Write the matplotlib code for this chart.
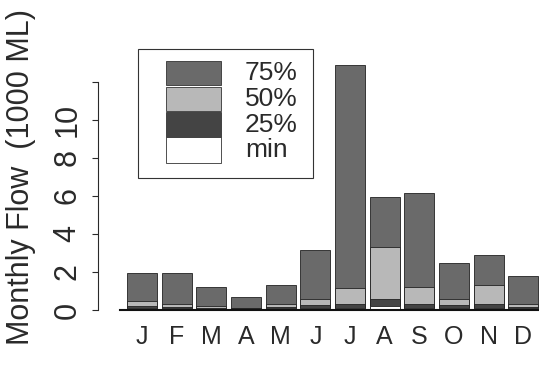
import matplotlib
matplotlib.use("Agg")
import matplotlib.pyplot as plt
from matplotlib.patches import Rectangle
import numpy as np

plt.rcParams['font.family'] = ['Liberation Sans', 'DejaVu Sans']

months = ['J', 'F', 'M', 'A', 'M', 'J', 'J', 'A', 'S', 'O', 'N', 'D']
p75 = [1.95, 1.95, 1.2, 0.68, 1.3, 3.15, 12.9, 5.95, 6.15, 2.45, 2.9, 1.8]
p50 = [0.5, 0.3, 0.2, 0.12, 0.3, 0.6, 1.15, 3.3, 1.2, 0.6, 1.3, 0.3]
p25 = [0.2, 0.15, 0.1, 0.08, 0.15, 0.25, 0.3, 0.6, 0.3, 0.25, 0.3, 0.15]
pmin = [0.1, 0.1, 0.05, 0.04, 0.08, 0.1, 0.12, 0.2, 0.12, 0.1, 0.1, 0.08]

labels = ['75%', '50%', '25%', 'min']
colors = ['#6a6a6a', '#b8b8b8', '#444444', '#ffffff']
txt = '#2a2a2a'

W, H = 539, 371
fig = plt.figure(figsize=(W / 100, H / 100), dpi=100)
ax = fig.add_axes([120 / W, (H - 310) / H, 419 / W, 256.5 / H])

x = np.arange(len(months))
for vals, c in zip([p75, p50, p25, pmin], colors):
    ax.bar(x, vals, width=0.87, color=c, edgecolor='#222222', linewidth=0.6)

ax.set_xlim(-0.634, 11.45)
ax.set_ylim(0, 13.5)

for s in ['top', 'right']:
    ax.spines[s].set_visible(False)
ax.spines['left'].set_position(('outward', 16))
ax.spines['left'].set_bounds(0, 12)
ax.spines['left'].set_color(txt)
ax.spines['bottom'].set_color('#111111')
ax.spines['bottom'].set_linewidth(1.5)

ax.set_yticks(range(0, 13, 2))
ax.set_yticklabels(['0', '2', '4', '6', '8', '10', ''], rotation=90, va='center',
                   fontsize=22, color=txt)
ax.tick_params(axis='y', length=4, width=0.8, colors=txt, pad=7)
ax.set_xticks(x)
ax.set_xticklabels(months, fontsize=18, color=txt)
ax.tick_params(axis='x', length=0, pad=11)

fig.text(21 / W, 1 - 177 / H, 'Monthly Flow  (1000 ML)', rotation=90,
         ha='center', va='center', fontsize=22, color=txt)

# legend drawn by hand
fig.add_artist(Rectangle((138 / W, 1 - 178 / H), 175 / W, 129 / H, transform=fig.transFigure,
                         facecolor='white', edgecolor='#333333', linewidth=0.8))
rows = [(61, 85), (87, 111), (112, 137), (137, 163)]
for (t, b), c, lab in zip(rows, colors, labels):
    fig.add_artist(Rectangle((166 / W, 1 - b / H), 55 / W, (b - t) / H, transform=fig.transFigure,
                             facecolor=c, edgecolor='#333333', linewidth=0.6))
    fig.text(245 / W, 1 - (t + b) / 2 / H, lab, ha='left', va='center', fontsize=19,
             color=txt, linespacing=0.9)

fig.savefig('out.png', dpi=100)
